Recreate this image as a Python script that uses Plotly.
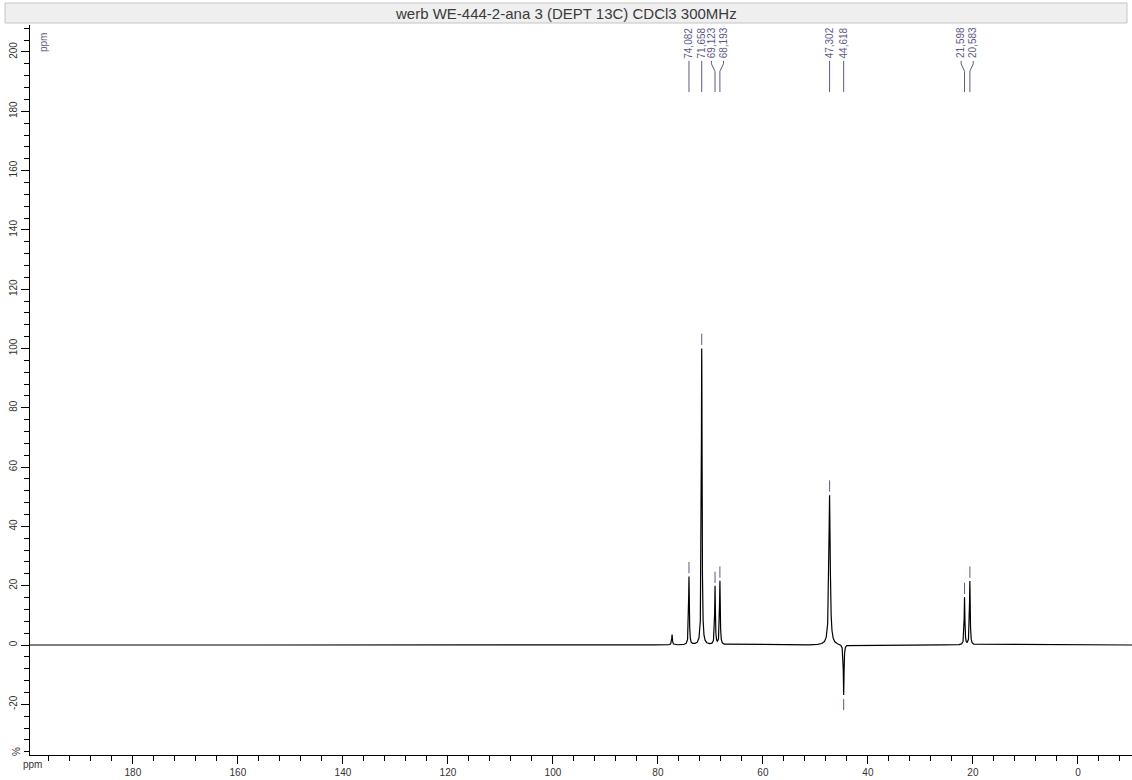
import numpy as np
import plotly.graph_objects as go

# ---- data ----
title = "werb WE-444-2-ana 3 (DEPT 13C) CDCl3 300MHz"
peak_ppm = [77.30, 74.082, 71.658, 69.123, 68.193, 47.302, 44.618, 21.598, 20.583]
peak_height = [3.5, 23.0, 100.0, 19.7, 21.5, 50.5, -17.0, 16.0, 21.5]
peak_halfwidth = [0.08, 0.08, 0.08, 0.08, 0.08, 0.15, 0.08, 0.08, 0.08]
label_ppm = [74.082, 71.658, 69.123, 68.193, 47.302, 44.618, 21.598, 20.583]
label_text = ["74,082", "71,658", "69,123", "68,193", "47,302", "44,618", "21,598", "20,583"]
x_ticks = [180, 160, 140, 120, 100, 80, 60, 40, 20, 0]
y_ticks = [200, 180, 160, 140, 120, 100, 80, 60, 40, 20, 0, -20]

# ---- spectrum from the peak table ----
x = np.arange(-10.3, 199.6, 0.01)
y = np.zeros_like(x)
for p, h, w in zip(peak_ppm, peak_height, peak_halfwidth):
    y += h / (1.0 + ((x - p) / w) ** 2)

LBL = "#5a5a8c"
FONT = "Liberation Sans, Arial"
fig = go.Figure()
fig.add_trace(go.Scatter(x=x, y=y, mode="lines", line=dict(color="black", width=1.2),
                         hoverinfo="skip", showlegend=False))

# label positions: spread close pairs apart
gap = 2.3
lx = list(label_ppm)
for i in range(len(lx) - 1):
    if lx[i] - lx[i + 1] < gap:
        c = (lx[i] + lx[i + 1]) / 2
        lx[i], lx[i + 1] = c + gap / 2, c - gap / 2

cx, cy = [], []
for p, l in zip(label_ppm, lx):
    cx += [p, p, l, l, None]
    cy += [186.5, 193.5, 196.0, 197.0, None]
fig.add_trace(go.Scatter(x=cx, y=cy, mode="lines", line=dict(color=LBL, width=1),
                         hoverinfo="skip", showlegend=False))

# small markers above each labelled peak
mx, my = [], []
for p in label_ppm:
    h = peak_height[peak_ppm.index(p)]
    s = 1 if h > 0 else -1
    mx += [p, p, None]
    my += [h + s * 1.2, h + s * 5.0, None]
fig.add_trace(go.Scatter(x=mx, y=my, mode="lines", line=dict(color=LBL, width=1),
                         hoverinfo="skip", showlegend=False))

annotations = []
for l, t in zip(lx, label_text):
    annotations.append(dict(x=l, y=197.2, xref="x", yref="y", text=t, showarrow=False,
                            textangle=-90, xanchor="center", yanchor="bottom",
                            font=dict(family=FONT, size=10, color=LBL)))

W, H = 1132, 780
L, R, T, B = 30, 0, 25, 25
pw, ph = W - L - R, H - T - B
def px(xs): return (xs - L) / pw
def py(ys): return (H - B - ys) / ph

annotations.append(dict(x=px(566), y=py(13), xref="paper", yref="paper", text=title,
                        showarrow=False, xanchor="center", yanchor="middle",
                        font=dict(family=FONT, size=15, color="#3a3a3a")))
annotations.append(dict(x=px(43), y=py(43), xref="paper", yref="paper", text="ppm",
                        showarrow=False, textangle=-90, xanchor="center", yanchor="middle",
                        font=dict(family=FONT, size=10, color=LBL)))
annotations.append(dict(x=px(16), y=py(752), xref="paper", yref="paper", text="%",
                        showarrow=False, textangle=-90, xanchor="center", yanchor="middle",
                        font=dict(family=FONT, size=10, color="#333")))
annotations.append(dict(x=px(32), y=py(764), xref="paper", yref="paper", text="ppm",
                        showarrow=False, xanchor="center", yanchor="middle",
                        font=dict(family=FONT, size=10, color="#333")))

fig.update_layout(
    width=W, height=H,
    margin=dict(l=L, r=R, t=T, b=B),
    paper_bgcolor="white", plot_bgcolor="white",
    annotations=annotations,
    shapes=[dict(type="rect", xref="paper", yref="paper",
                 x0=px(5), x1=px(1127), y0=py(23), y1=py(3),
                 fillcolor="#efefef", line=dict(color="#c4c4c4", width=1), layer="below")],
    xaxis=dict(range=[199.6, -10.3], showgrid=False, zeroline=False,
               showline=True, linecolor="black", linewidth=1,
               tickmode="array", tickvals=x_ticks, ticktext=[str(v) for v in x_ticks],
               ticks="outside", ticklen=8, tickcolor="black",
               minor=dict(dtick=4, tick0=0, ticks="outside", ticklen=5, tickcolor="black"),
               tickfont=dict(family=FONT, size=10, color="#333")),
    yaxis=dict(range=[-37.1, 209.1], showgrid=False, zeroline=False,
               showline=True, linecolor="black", linewidth=1,
               tickmode="array", tickvals=y_ticks, ticktext=[str(v) for v in y_ticks],
               ticks="outside", ticklen=8, tickcolor="black", tickangle=-90,
               minor=dict(dtick=4, tick0=0, ticks="outside", ticklen=5, tickcolor="black"),
               tickfont=dict(family=FONT, size=10, color="#333")),
)

fig.write_html(
    "out.html",
    config={"displayModeBar": False},
    post_script="document.documentElement.style.margin='0';"
                "document.body.style.margin='0';document.body.style.padding='0';"
                "document.body.style.overflow='hidden';",
)
